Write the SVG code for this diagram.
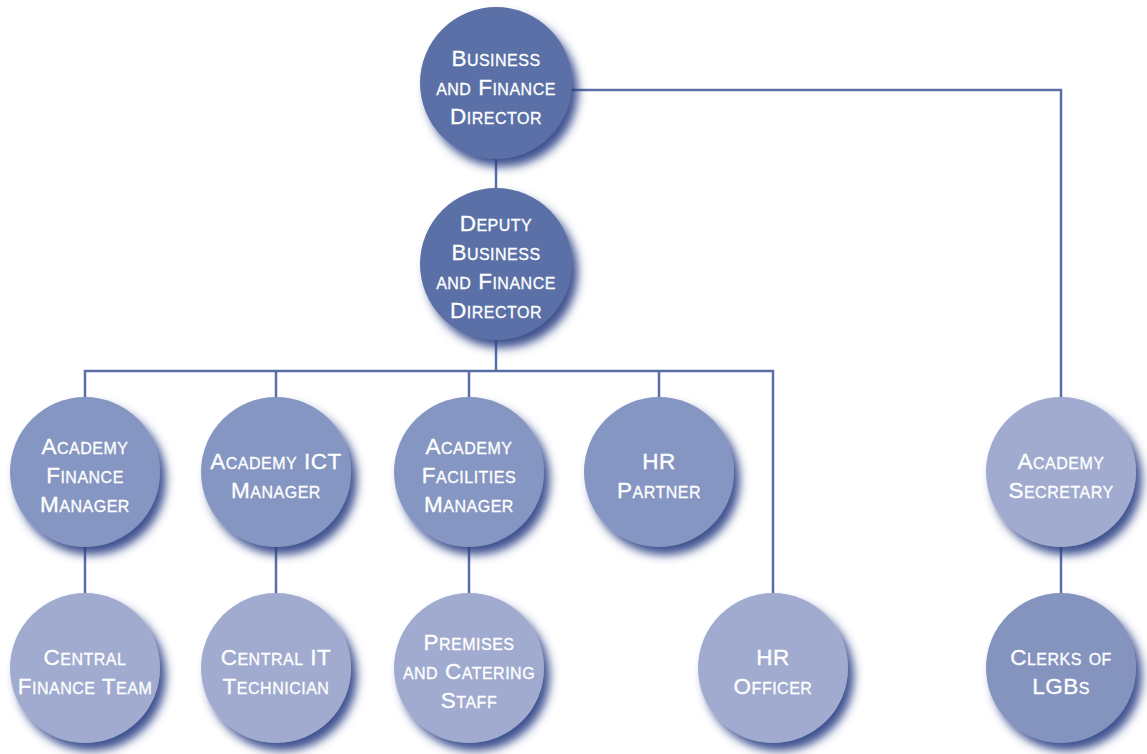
<svg xmlns="http://www.w3.org/2000/svg" width="1147" height="754" viewBox="0 0 1147 754">
  <defs>
    <filter id="shadow" x="-20%" y="-20%" width="150%" height="150%">
      <feGaussianBlur in="SourceAlpha" stdDeviation="5"/>
      <feOffset dx="6" dy="8" result="b"/>
      <feFlood flood-color="#2a3f84" flood-opacity="0.9"/>
      <feComposite in2="b" operator="in"/>
      <feMerge>
        <feMergeNode/>
        <feMergeNode in="SourceGraphic"/>
      </feMerge>
    </filter>
  </defs>
  <style>
    .lnk { fill: none; stroke: #5a6ea8; stroke-width: 2.5; }
    circle { filter: url(#shadow); }
    .dark { fill: #5a6fa6; }
    .mid { fill: #8696c2; }
    .light { fill: #a0abcf; }
    .clerk { fill: #8593bf; }
    text { font-family: "Liberation Sans", Arial, sans-serif; font-size: 22.5px; font-variant: small-caps; fill: #ffffff; stroke: #ffffff; stroke-width: 0.3; text-anchor: middle; letter-spacing: 0.5px; }
  </style>
  <rect width="1147" height="754" fill="#ffffff"/>

  <g id="connectors">
    <path class="lnk" d="M496 84 V264"/>
    <path class="lnk" d="M560 90 H1061 V472"/>
    <path class="lnk" d="M496 264 V371"/>
    <path class="lnk" d="M85 472 V371 H773 V668"/>
    <path class="lnk" d="M276 371 V668"/>
    <path class="lnk" d="M469 371 V668"/>
    <path class="lnk" d="M659 371 V472"/>
    <path class="lnk" d="M85 472 V668"/>
    <path class="lnk" d="M1061 472 V668"/>
  </g>

  <g id="business-finance-director">
    <circle class="dark" cx="496" cy="83" r="76"/>
    <text><tspan x="496" y="66">Business</tspan><tspan x="496" y="95">and Finance</tspan><tspan x="496" y="124">Director</tspan></text>
  </g>

  <g id="deputy-director">
    <circle class="dark" cx="496" cy="264" r="76"/>
    <text><tspan x="496" y="231">Deputy</tspan><tspan x="496" y="260">Business</tspan><tspan x="496" y="289">and Finance</tspan><tspan x="496" y="318">Director</tspan></text>
  </g>

  <g id="academy-finance-manager">
    <circle class="mid" cx="85" cy="472" r="75"/>
    <text><tspan x="85" y="454">Academy</tspan><tspan x="85" y="483">Finance</tspan><tspan x="85" y="512">Manager</tspan></text>
  </g>

  <g id="academy-ict-manager">
    <circle class="mid" cx="276" cy="472" r="75"/>
    <text><tspan x="276" y="469">Academy ICT</tspan><tspan x="276" y="498">Manager</tspan></text>
  </g>

  <g id="academy-facilities-manager">
    <circle class="mid" cx="469" cy="472" r="75"/>
    <text><tspan x="469" y="454">Academy</tspan><tspan x="469" y="483">Facilities</tspan><tspan x="469" y="512">Manager</tspan></text>
  </g>

  <g id="hr-partner">
    <circle class="mid" cx="659" cy="472" r="75"/>
    <text><tspan x="659" y="469">HR</tspan><tspan x="659" y="498">Partner</tspan></text>
  </g>

  <g id="academy-secretary">
    <circle class="light" cx="1061" cy="472" r="75"/>
    <text><tspan x="1061" y="469">Academy</tspan><tspan x="1061" y="498">Secretary</tspan></text>
  </g>

  <g id="central-finance-team">
    <circle class="light" cx="85" cy="668" r="75"/>
    <text><tspan x="85" y="665">Central</tspan><tspan x="85" y="694">Finance Team</tspan></text>
  </g>

  <g id="central-it-technician">
    <circle class="light" cx="276" cy="668" r="75"/>
    <text><tspan x="276" y="665">Central IT</tspan><tspan x="276" y="694">Technician</tspan></text>
  </g>

  <g id="premises-catering-staff">
    <circle class="light" cx="469" cy="668" r="75"/>
    <text><tspan x="469" y="650">Premises</tspan><tspan x="469" y="679">and Catering</tspan><tspan x="469" y="708">Staff</tspan></text>
  </g>

  <g id="hr-officer">
    <circle class="light" cx="773" cy="668" r="75"/>
    <text><tspan x="773" y="665">HR</tspan><tspan x="773" y="694">Officer</tspan></text>
  </g>

  <g id="clerks-of-lgbs">
    <circle class="clerk" cx="1061" cy="668" r="75"/>
    <text><tspan x="1061" y="665">Clerks of</tspan><tspan x="1061" y="694">LGBs</tspan></text>
  </g>
</svg>
